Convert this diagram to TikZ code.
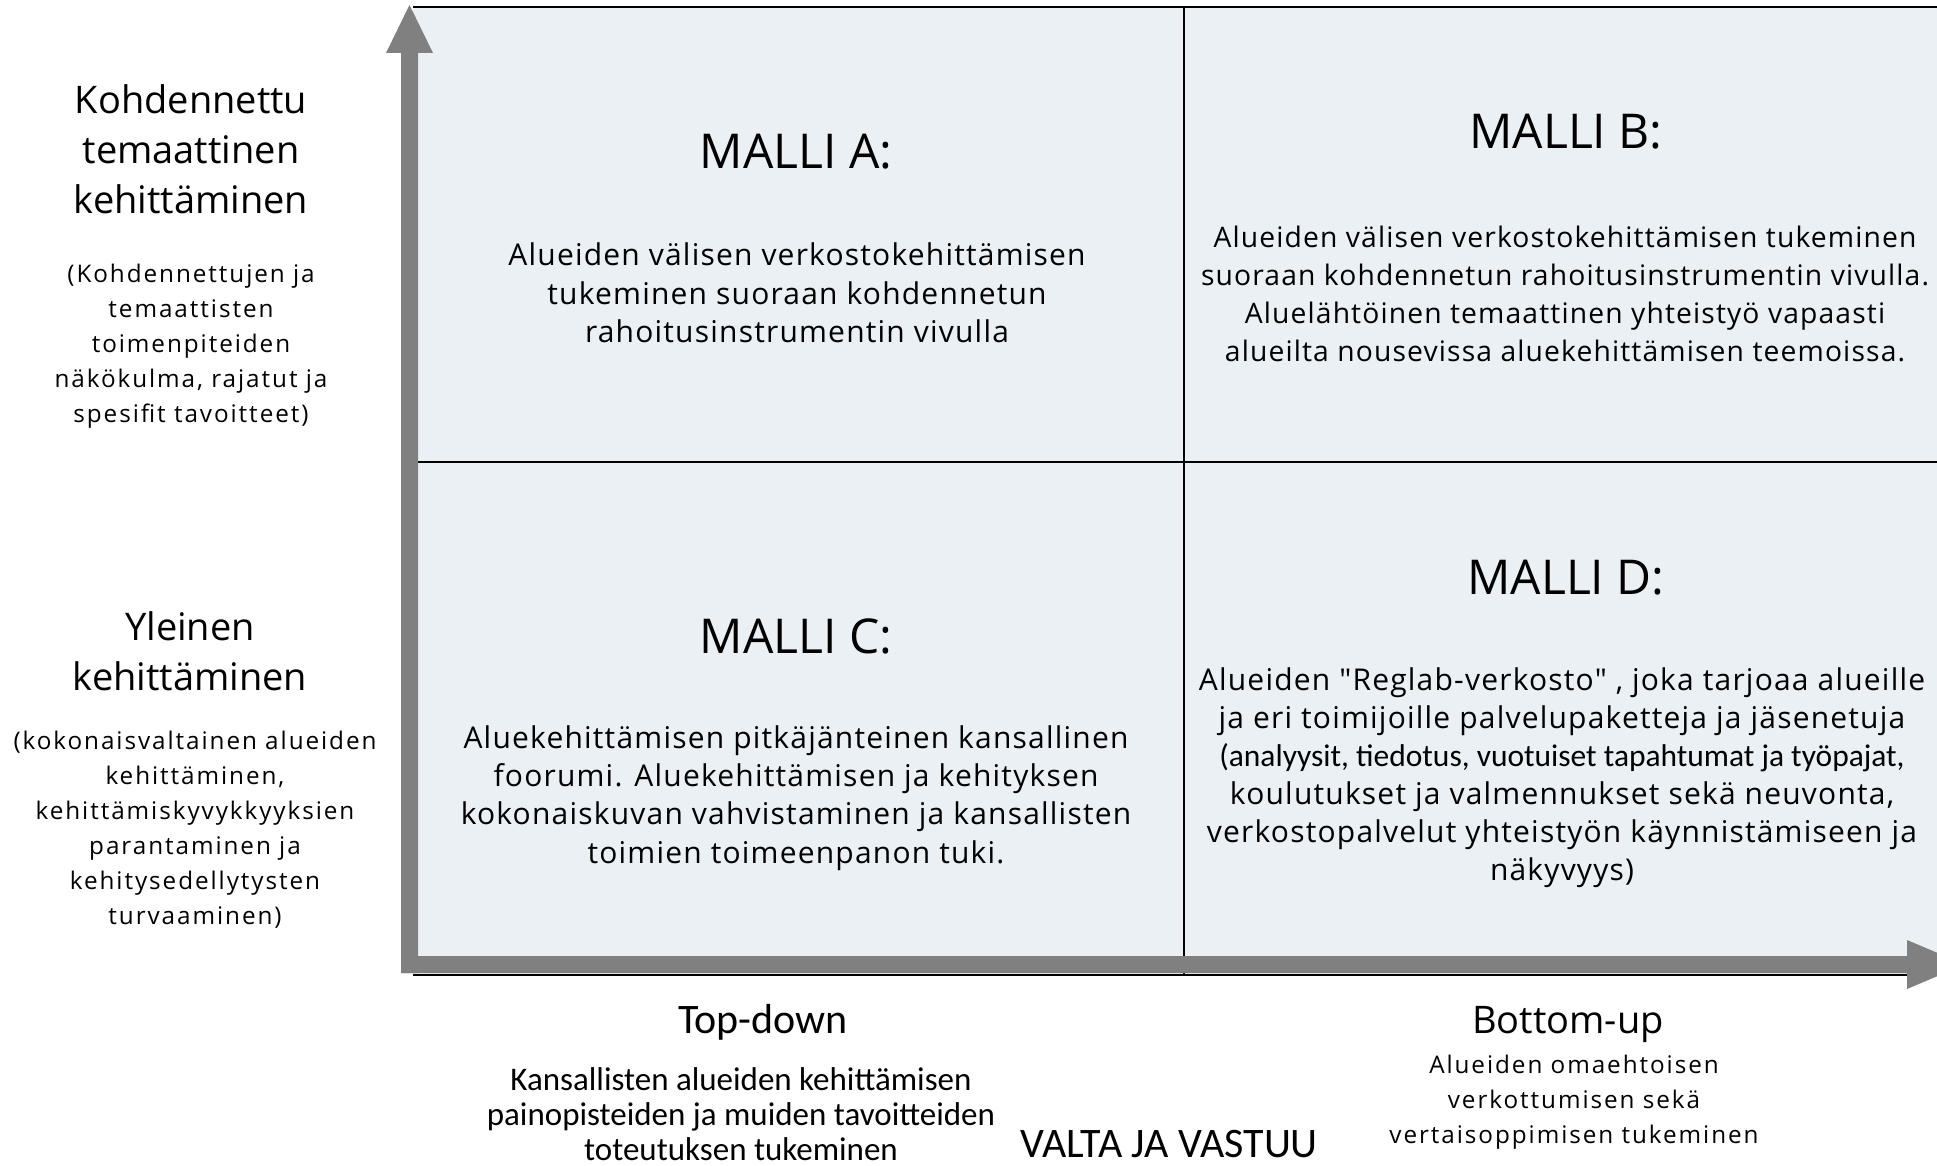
\documentclass[tikz,border=0pt]{standalone}
\usepackage{fontspec}
\setmainfont{Open Sans}
\newfontfamily\fone{Open Sans}
\newfontfamily\fsub[LetterSpace=8]{Open Sans}
\newfontfamily\fbody[LetterSpace=4]{Open Sans}
\newfontfamily\fcal{Carlito}
\definecolor{cellfill}{RGB}{234,240,243}
\definecolor{axisgray}{RGB}{128,128,128}
\begin{document}
\begin{tikzpicture}[x=0.75pt,y=-0.75pt,
  txt/.style={inner sep=0pt, outer sep=0pt, align=center, text=black},
  gridline/.style={draw=black, line width=2.2pt},
  axisfill/.style={fill=axisgray},
  headfont/.style={font=\fone\fontsize{28.5pt}{37.5pt}\selectfont},
  subfont/.style={font=\fsub\fontsize{18.2pt}{26.25pt}\selectfont},
  mallifont/.style={font=\fone\fontsize{36pt}{40pt}\selectfont},
  bodyfont/.style={font=\fbody\fontsize{22.5pt}{28.8pt}\selectfont},
  calfont/.style={font=\fcal\fontsize{24.75pt}{26.2pt}\selectfont},
  bigcal/.style={font=\fcal\fontsize{31.5pt}{34pt}\selectfont}]
\useasboundingbox (0,0) rectangle (1937,1166);
\clip (0,0) rectangle (1937,1166);
\fill[white] (0,0) rectangle (1937,1166);
% quadrant area
\fill[cellfill] (413,7) rectangle (1990,975);
\draw[gridline] (413,7) -- (1990,7);
\draw[gridline] (413,975) -- (1990,975);
\draw[gridline] (1184,7) -- (1184,975);
\draw[gridline] (413,462) -- (1990,462);
% axes
\fill[axisfill] (401,973) -- (418,973) -- (418,53) -- (433,53) -- (409.5,5) -- (386,53) -- (401,53) -- cycle;
\fill[axisfill] (402,956) -- (1907,956) -- (1907,940) -- (1965,964.5) -- (1907,989) -- (1907,973) -- (402,973) -- cycle;
% left labels
\node[txt, headfont] (lh1) at (191,149) {Kohdennettu\\temaattinen\\kehittäminen};
\node[txt, subfont] (ls1) at (191,346) {(Kohdennettujen ja\\temaattisten\\toimenpiteiden\\näkökulma, rajatut ja\\spesifit tavoitteet)};
\node[txt, headfont] (lh2) at (190,651) {Yleinen\\kehittäminen};
\node[txt, subfont] (ls2) at (195,830) {(kokonaisvaltainen alueiden\\kehittäminen,\\kehittämiskyvykkyyksien\\parantaminen ja\\kehitysedellytysten\\turvaaminen)};
% quadrant titles
\node[txt, mallifont, anchor=base] (ma) at (796,169) {MALLI A:};
\node[txt, mallifont, anchor=base] (mb) at (1566,149) {MALLI B:};
\node[txt, mallifont, anchor=base] (mc) at (796,653) {MALLI C:};
\node[txt, mallifont, anchor=base] (md) at (1566,594) {MALLI D:};
% quadrant bodies
\node[txt, bodyfont] (ba) at (797,293) {Alueiden välisen verkostokehittämisen\\tukeminen suoraan kohdennetun\\rahoitusinstrumentin vivulla};
\node[txt, font=\fbody\fontsize{21.2pt}{28.7pt}\selectfont] (bb) at (1565,294) {Alueiden välisen verkostokehittämisen tukeminen\\suoraan kohdennetun rahoitusinstrumentin vivulla.\\Aluelähtöinen temaattinen yhteistyö vapaasti\\alueilta nousevissa aluekehittämisen teemoissa.};
\node[txt, font=\fbody\fontsize{22.5pt}{28.7pt}\selectfont] (bc) at (796,798) {Aluekehittämisen pitkäjänteinen kansallinen\\foorumi. Aluekehittämisen ja kehityksen\\kokonaiskuvan vahvistaminen ja kansallisten\\toimien toimeenpanon tuki.};
\node[txt, font=\fbody\fontsize{22.5pt}{28.5pt}\selectfont] (bd) at (1562,778) {Alueiden "Reglab-verkosto" , joka tarjoaa alueille\\ja eri toimijoille palvelupaketteja ja jäsenetuja\\\fcal\fontsize{23.6pt}{28.5pt}\selectfont (analyysit, tiedotus, vuotuiset tapahtumat ja työpajat,\\koulutukset ja valmennukset sekä neuvonta,\\verkostopalvelut yhteistyön käynnistämiseen ja\\näkyvyys)};
% bottom labels
\node[txt, bigcal, anchor=base] (td) at (763,1033) {Top-down};
\node[txt, headfont, anchor=base] (bu) at (1568,1033) {Bottom-up};
\node[txt, calfont] (tds) at (741,1114) {Kansallisten alueiden kehittämisen\\painopisteiden ja muiden tavoitteiden\\toteutuksen tukeminen};
\node[txt, subfont] (bus) at (1574,1102) {Alueiden omaehtoisen\\verkottumisen sekä\\vertaisoppimisen tukeminen};
\node[txt, bigcal, anchor=base] (vv) at (1169,1157) {VALTA JA VASTUU};
\end{tikzpicture}
\end{document}
